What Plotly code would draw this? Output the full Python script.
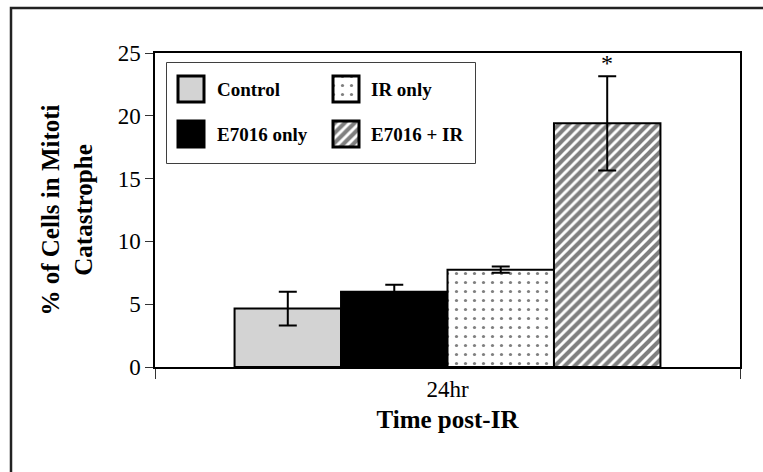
import plotly.graph_objects as go

categories = ["24hr"]
series_names = ["Control", "E7016 only", "IR only", "E7016 + IR"]
values = [4.65, 6.0, 7.75, 19.4]
errors = [1.35, 0.55, 0.25, 3.75]
y_ticks = [0, 5, 10, 15, 20, 25]
significance = ["", "", "", "*"]

fills = ["#d3d3d3", "#000000", "#ffffff", "#ffffff"]
patterns = [
    dict(shape=""),
    dict(shape=""),
    dict(shape=".", fgcolor="#000000", bgcolor="#ffffff", size=9, solidity=0.1),
    dict(shape="/", fgcolor="#000000", bgcolor="#ffffff", size=7, solidity=0.58),
]

BARGAP = 0.272
serif = "Liberation Serif"

# plot-area geometry in pixels (for converting layout positions)
W, H = 763, 472
px0, py0, pw, ph = 155, 53, 585, 314
def xp(px):
    return (px - px0) / pw
def yp(py):
    return (py0 + ph - py) / ph

fig = go.Figure()
for name, v, e, fc, pat in zip(series_names, values, errors, fills, patterns):
    fig.add_trace(go.Bar(
        name=name, x=categories, y=[v], showlegend=False,
        marker=dict(color=fc, line=dict(color="#000000", width=2), pattern=pat),
        error_y=dict(type="data", array=[e], visible=True, color="#000000",
                     thickness=2, width=9),
    ))

# significance marker above the error bar
n = len(series_names)
w = (1 - BARGAP) / n
for i, (s, v, e) in enumerate(zip(significance, values, errors)):
    if s:
        xc = -0.5 + BARGAP / 2 + w * (i + 0.5)
        fig.add_annotation(x=xc, y=v + e, xref="x", yref="y", text=s,
                           showarrow=False, yanchor="bottom", yshift=-2,
                           font=dict(family=serif, size=24, color="#000"))

# ---- custom legend (2 x 2 grid, large swatches) on an overlay axis in box pixels
LB = dict(x0=167, x1=475, y0=63, y1=163)
SW = 26
col_sw_x = [178, 333]
col_tx_x = [215, 369]
row_sw_y = [76, 121]
fig.add_shape(type="rect", xref="paper", yref="paper",
              x0=xp(LB["x0"]), x1=xp(LB["x1"]), y0=yp(LB["y1"]), y1=yp(LB["y0"]),
              line=dict(color="#000", width=1.5), fillcolor="#ffffff", layer="below")
for i, (name, fc, pat) in enumerate(zip(series_names, fills, patterns)):
    c, r = i // 2, i % 2
    sx = col_sw_x[c] - LB["x0"]
    sy = row_sw_y[r] - LB["y0"]
    fig.add_trace(go.Bar(
        x=[sx + SW / 2], y=[SW], base=[sy], width=[SW], offset=-SW / 2,
        xaxis="x2", yaxis="y2", showlegend=False, hoverinfo="skip",
        marker=dict(color=fc, line=dict(color="#000", width=3), pattern=pat),
    ))
    fig.add_annotation(x=col_tx_x[c] - LB["x0"], y=sy + SW / 2, xref="x2", yref="y2",
                       text=f"<b>{name}</b>", showarrow=False,
                       xanchor="left", yanchor="middle",
                       font=dict(family=serif, size=19, color="#000"))

# outer chart frame (left and top edges visible)
fig.add_shape(type="path", xref="paper", yref="paper",
              path=f"M {xp(11)},{yp(480)} L {xp(11)},{yp(8)} L {xp(770)},{yp(8)}",
              line=dict(color="#222222", width=2.5))

fig.update_layout(
    width=W, height=H,
    margin=dict(l=px0, r=W - px0 - pw, t=py0, b=H - py0 - ph),
    paper_bgcolor="#ffffff", plot_bgcolor="#ffffff",
    barmode="group", bargap=BARGAP, bargroupgap=0,
    showlegend=False,
    font=dict(family=serif, color="#000"),
    xaxis=dict(
        type="category", showline=True, linecolor="#000", linewidth=2, mirror=True,
        ticks="outside", tickson="boundaries", ticklen=10, tickcolor="#333", tickwidth=1,
        tickfont=dict(family=serif, size=23, color="#000"),
        title=dict(text="<b>Time post-IR</b>", font=dict(family=serif, size=25, color="#000"), standoff=10),
        showgrid=False,
    ),
    yaxis=dict(
        range=[0, 25], tickvals=y_ticks, showline=True, linecolor="#000", linewidth=1.5,
        mirror=True, ticks="outside", ticklen=8, tickcolor="#333", tickwidth=1,
        tickfont=dict(family=serif, size=23, color="#000"),
        title=dict(text="<b>% of Cells in Mitoti<br>Catastrophe</b>",
                   font=dict(family=serif, size=25, color="#000"), standoff=18),
        showgrid=False, zeroline=False,
    ),
    xaxis2=dict(domain=[xp(LB["x0"]), xp(LB["x1"])], range=[0, LB["x1"] - LB["x0"]],
                anchor="y2", visible=False, fixedrange=True),
    yaxis2=dict(domain=[yp(LB["y1"]), yp(LB["y0"])], range=[LB["y1"] - LB["y0"], 0],
                anchor="x2", visible=False, fixedrange=True),
)

fig.write_html("out.html")
